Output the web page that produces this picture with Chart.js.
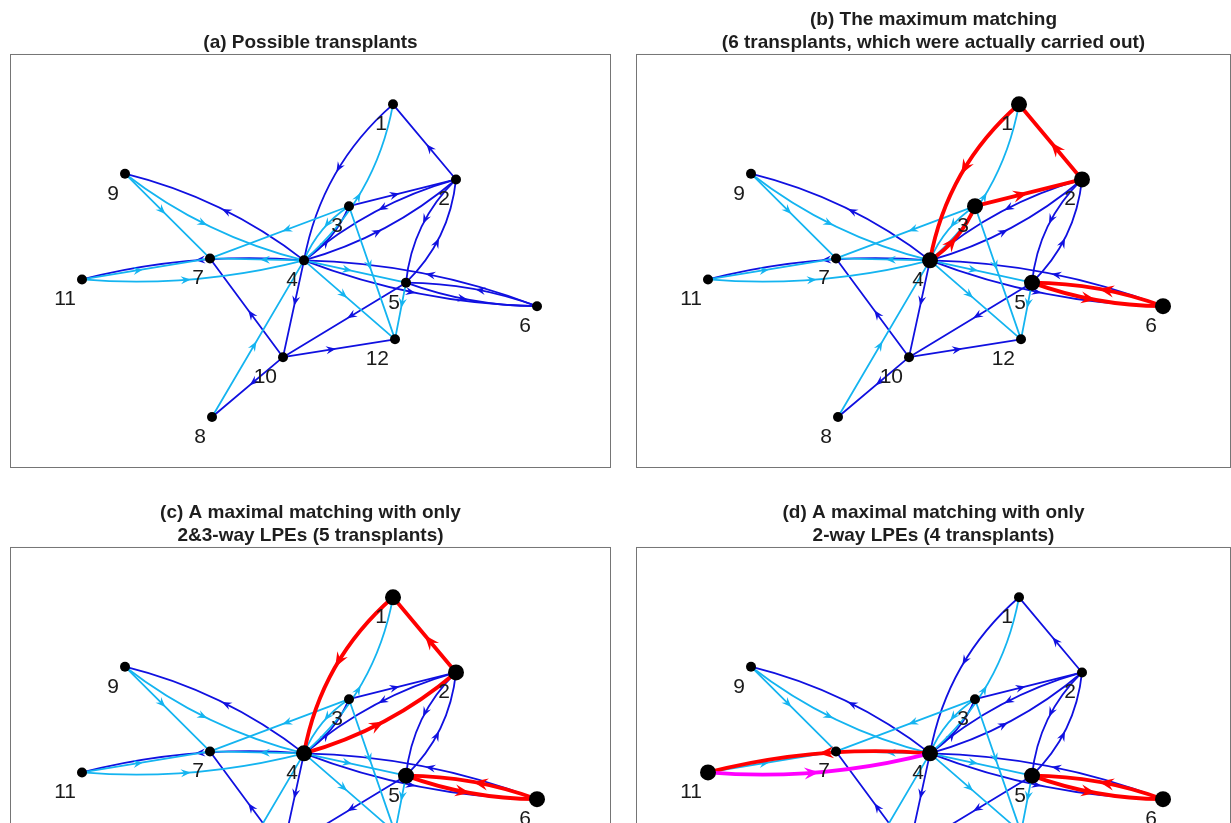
<!DOCTYPE html>
<html lang="en">
<head>
<meta charset="UTF-8">
<title>Kidney exchange matchings</title>
<script src="https://cdn.jsdelivr.net/npm/chart.js"></script>
<style>
  html, body { margin: 0; padding: 0; background: #fff; overflow: hidden; }
  body { width: 1231px; height: 823px; position: relative; }
  .panel { position: absolute; }
</style>
</head>
<body>
<div class="panel" style="left:10px;top:0px;width:601px;height:468px"><canvas id="pa"></canvas></div>
<div class="panel" style="left:636px;top:0px;width:595px;height:468px"><canvas id="pb"></canvas></div>
<div class="panel" style="left:10px;top:493px;width:601px;height:468px"><canvas id="pc"></canvas></div>
<div class="panel" style="left:636px;top:493px;width:595px;height:468px"><canvas id="pd"></canvas></div>
<script>
// node layout (graph coordinates)
const nodeNames = ['1', '2', '3', '4', '5', '6', '7', '8', '9', '10', '11', '12'];
const nodeX = [3.83, 4.46, 3.39, 2.94, 3.96, 5.27, 2.00, 2.02, 1.15, 2.73, 0.72, 3.85];
const nodeY = [5.71, 4.53, 4.11, 3.26, 2.91, 2.54, 3.29, 0.80, 4.62, 1.74, 2.96, 2.02];

// directed edges: donor pair -> recipient pair
const blueFrom = [2, 1, 3, 2, 4, 4, 2, 5, 5, 6, 4, 6, 4, 4, 10, 4, 5, 10, 10];
const blueTo   = [1, 4, 2, 4, 2, 3, 5, 2, 6, 5, 6, 4, 9, 11, 7, 10, 10, 12, 8];
const cyanFrom = [4, 3, 9, 9, 3, 4, 11, 11, 4, 4, 3, 5, 8];
const cyanTo   = [1, 4, 4, 7, 7, 7, 7, 4, 5, 12, 12, 12, 4];

// highlighted exchanges per panel
const titles = {
  a: ['(a) Possible transplants'],
  b: ['(b) The maximum matching', '(6 transplants, which were actually carried out)'],
  c: ['(c) A maximal matching with only', '2&3-way LPEs (5 transplants)'],
  d: ['(d) A maximal matching with only', '2-way LPEs (4 transplants)']
};
const redEdges = {
  a: [],
  b: [[1, 4], [4, 3], [3, 2], [2, 1], [5, 6], [6, 5]],
  c: [[1, 4], [4, 2], [2, 1], [5, 6], [6, 5]],
  d: [[4, 11], [5, 6], [6, 5]]
};
const magentaEdges = { a: [], b: [], c: [], d: [[11, 4]] };
const matchedNodes = {
  a: [],
  b: [1, 2, 3, 4, 5, 6],
  c: [1, 2, 4, 5, 6],
  d: [4, 5, 6, 11]
};

const BLUE = '#1010e0';
const CYAN = '#14b4f0';
const RED = '#ff0000';
const MAGENTA = '#ff00ff';

const edges = [];
blueFrom.forEach((f, i) => edges.push({ from: f, to: blueTo[i], color: BLUE }));
cyanFrom.forEach((f, i) => edges.push({ from: f, to: cyanTo[i], color: CYAN }));
const hasEdge = (f, t) => edges.some(e => e.from === f && e.to === t);

function arrow(ctx, mx, my, ux, uy, len, w) {
  const nx = -uy, ny = ux;
  const tipx = mx + ux * len * 0.5, tipy = my + uy * len * 0.5;
  const bx = mx - ux * len * 0.5, by = my - uy * len * 0.5;
  const kx = mx - ux * len * 0.15, ky = my - uy * len * 0.15;
  ctx.beginPath();
  ctx.moveTo(tipx, tipy);
  ctx.lineTo(bx + nx * w, by + ny * w);
  ctx.lineTo(kx, ky);
  ctx.lineTo(bx - nx * w, by - ny * w);
  ctx.closePath();
  ctx.fill();
}

function drawEdge(chart, e, color, lw, alen, aw) {
  const { ctx, scales: { x, y } } = chart;
  const i = e.from - 1, j = e.to - 1;
  const x0 = nodeX[i], y0 = nodeY[i], x1 = nodeX[j], y1 = nodeY[j];
  const p0x = x.getPixelForValue(x0), p0y = y.getPixelForValue(y0);
  const p1x = x.getPixelForValue(x1), p1y = y.getPixelForValue(y1);
  const dx = p1x - p0x, dy = p1y - p0y, L = Math.hypot(dx, dy);
  const ux = dx / L, uy = dy / L;
  let pcx = (p0x + p1x) / 2, pcy = (p0y + p1y) / 2;
  if (hasEdge(e.to, e.from)) {
    // reciprocal pair: bend to the right of travel, bend measured in graph units
    const k = 0.13;
    const ox = x.getPixelForValue(k * (y1 - y0)) - x.getPixelForValue(0);
    const oy = y.getPixelForValue(-k * (x1 - x0)) - y.getPixelForValue(0);
    const rx = -uy, ry = ux;
    const amt = ox * rx + oy * ry;
    pcx += rx * amt;
    pcy += ry * amt;
  }
  ctx.strokeStyle = color;
  ctx.fillStyle = color;
  ctx.lineWidth = lw;
  ctx.beginPath();
  ctx.moveTo(p0x, p0y);
  ctx.quadraticCurveTo(pcx, pcy, p1x, p1y);
  ctx.stroke();
  // arrow sits a little before the middle of the edge
  const mx = 0.25 * p0x + 0.5 * pcx + 0.25 * p1x - ux * 8;
  const my = 0.25 * p0y + 0.5 * pcy + 0.25 * p1y - uy * 8;
  arrow(ctx, mx, my, ux, uy, alen, aw);
}

const graphPlugin = {
  id: 'graph',
  beforeDatasetsDraw(chart, args, opts) {
    const { ctx, chartArea: ca } = chart;
    const key = opts.panel;
    ctx.save();
    ctx.strokeStyle = '#757575';
    ctx.lineWidth = 1;
    ctx.strokeRect(ca.left + 0.5, ca.top + 0.5, ca.width - 1, ca.height - 1);
    ctx.lineCap = 'round';
    const isHi = (e, list) => list.some(p => p[0] === e.from && p[1] === e.to);
    edges.forEach(e => {
      if (isHi(e, redEdges[key]) || isHi(e, magentaEdges[key])) return;
      drawEdge(chart, e, e.color, 1.8, 10, 4);
    });
    edges.forEach(e => {
      if (isHi(e, redEdges[key])) drawEdge(chart, e, RED, 3.8, 15, 6);
      if (isHi(e, magentaEdges[key])) drawEdge(chart, e, MAGENTA, 3.8, 15, 6);
    });
    ctx.restore();
  },
  afterDatasetsDraw(chart) {
    const { ctx, scales: { x, y } } = chart;
    ctx.save();
    ctx.fillStyle = '#1a1a1a';
    ctx.font = '21px "Liberation Sans", Arial, sans-serif';
    ctx.textAlign = 'right';
    ctx.textBaseline = 'alphabetic';
    nodeNames.forEach((n, i) => {
      ctx.fillText(n, x.getPixelForValue(nodeX[i]) - 6, y.getPixelForValue(nodeY[i]) + 26);
    });
    ctx.restore();
  }
};

function makePanel(id, key, xmax) {
  const big = matchedNodes[key];
  const twoLines = titles[key].length > 1;
  new Chart(document.getElementById(id), {
    type: 'scatter',
    data: {
      datasets: [{
        data: nodeX.map((v, i) => ({ x: v, y: nodeY[i] })),
        backgroundColor: '#000',
        borderWidth: 0,
        pointRadius: nodeNames.map((n, i) => big.includes(i + 1) ? 8 : 5),
        pointHoverRadius: nodeNames.map((n, i) => big.includes(i + 1) ? 8 : 5)
      }]
    },
    options: {
      responsive: true,
      maintainAspectRatio: false,
      animation: false,
      events: [],
      layout: { padding: 0, autoPadding: false },
      scales: {
        x: { type: 'linear', min: 0, max: xmax, display: false },
        y: { type: 'linear', min: 0, max: 6.5, display: false }
      },
      plugins: {
        legend: { display: false },
        tooltip: { enabled: false },
        title: {
          display: true,
          text: titles[key],
          color: '#1e1e1e',
          font: { family: '"Liberation Sans", Arial, sans-serif', size: 19, weight: 'bold', lineHeight: 1.21 },
          padding: { top: twoLines ? 8 : 31, bottom: 0 }
        },
        graph: { panel: key }
      }
    },
    plugins: [graphPlugin]
  });
}

makePanel('pa', 'a', 6.01);
makePanel('pb', 'b', 5.95);
makePanel('pc', 'c', 6.01);
makePanel('pd', 'd', 5.95);
</script>
</body>
</html>
